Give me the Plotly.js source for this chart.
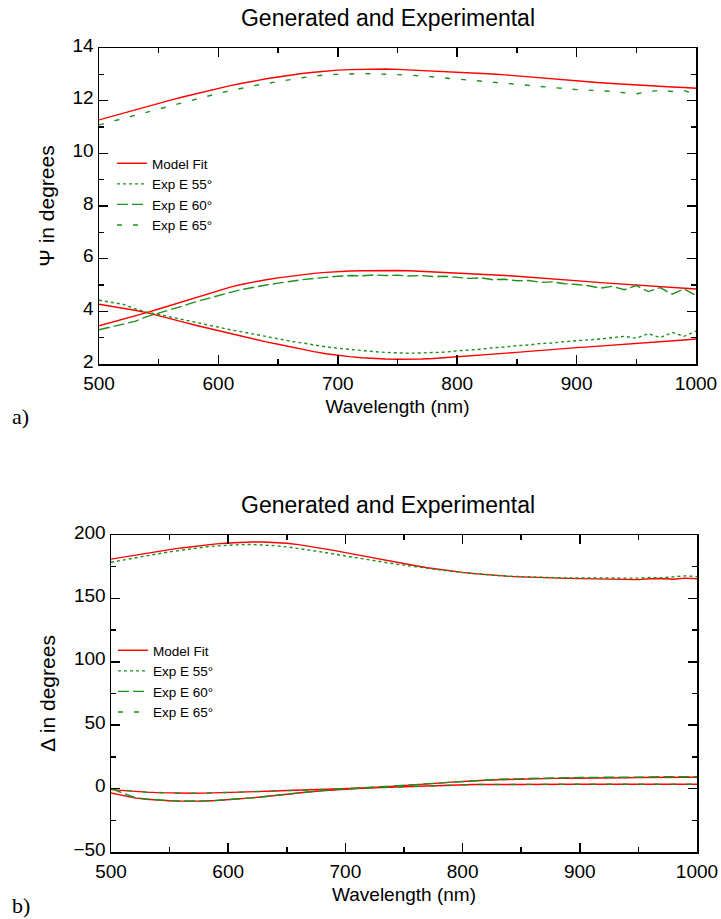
<!DOCTYPE html>
<html>
<head>
<meta charset="utf-8">
<script src="https://cdn.plot.ly/plotly-3.0.1.min.js"></script>
<style>html,body{margin:0;padding:0;background:#fff;}#chart{width:721px;height:919px;}</style>
</head>
<body>
<div id="chart"></div>
<script>
// Wavelength grid (nm)
const wavelength = [500,510,520,530,540,550,560,570,580,590,600,610,620,630,640,650,660,670,680,690,700,710,720,730,740,750,760,770,780,790,800,810,820,830,840,850,860,870,880,890,900,910,920,930,940,950,960,970,980,990,1000];

// ---- Panel a) Psi (degrees) ----
const psiModelA = [11.27,11.4,11.52,11.65,11.78,11.9,12.02,12.14,12.25,12.36,12.47,12.57,12.66,12.75,12.83,12.9,12.97,13.03,13.08,13.13,13.16,13.18,13.19,13.2,13.2,13.19,13.17,13.14,13.11,13.09,13.07,13.05,13.03,13.01,12.98,12.94,12.9,12.86,12.82,12.78,12.74,12.71,12.68,12.65,12.62,12.6,12.57,12.54,12.52,12.5,12.47];
const psiExpA65 = [11.08,11.2,11.32,11.45,11.58,11.7,11.82,11.94,12.05,12.17,12.28,12.38,12.48,12.57,12.65,12.73,12.8,12.87,12.93,12.98,13.0,13.02,13.03,13.02,13.01,13.0,12.97,12.94,12.9,12.85,12.81,12.78,12.74,12.7,12.66,12.62,12.58,12.55,12.5,12.46,12.42,12.4,12.38,12.35,12.3,12.26,12.33,12.4,12.35,12.38,12.25];
const psiModelB = [3.45,3.57,3.69,3.82,3.95,4.09,4.23,4.38,4.53,4.67,4.8,4.92,5.03,5.12,5.2,5.27,5.33,5.39,5.44,5.48,5.51,5.53,5.54,5.55,5.55,5.55,5.54,5.52,5.5,5.48,5.46,5.44,5.42,5.39,5.36,5.33,5.3,5.27,5.23,5.2,5.16,5.13,5.09,5.06,5.03,5.0,4.97,4.94,4.91,4.88,4.85];
const psiExpB60 = [3.3,3.4,3.5,3.62,3.8,3.93,4.07,4.2,4.35,4.48,4.6,4.72,4.83,4.92,5.0,5.07,5.14,5.2,5.25,5.3,5.33,5.36,5.35,5.38,5.36,5.37,5.34,5.36,5.32,5.33,5.3,5.25,5.27,5.2,5.22,5.16,5.17,5.1,5.12,5.05,5.02,4.97,4.88,4.95,4.82,4.98,4.75,4.9,4.65,4.85,4.6];
const psiModelC = [4.27,4.2,4.13,4.04,3.95,3.84,3.72,3.6,3.48,3.37,3.26,3.15,3.04,2.94,2.84,2.75,2.65,2.55,2.47,2.39,2.33,2.28,2.24,2.21,2.19,2.18,2.18,2.19,2.21,2.24,2.27,2.3,2.33,2.37,2.41,2.44,2.48,2.52,2.56,2.59,2.62,2.65,2.68,2.71,2.74,2.77,2.8,2.83,2.87,2.91,2.95];
const psiExpC55 = [4.42,4.35,4.27,4.1,3.97,3.88,3.78,3.68,3.6,3.5,3.4,3.3,3.22,3.13,3.03,2.95,2.87,2.8,2.72,2.65,2.6,2.55,2.5,2.47,2.44,2.42,2.41,2.42,2.44,2.45,2.5,2.53,2.56,2.62,2.64,2.7,2.72,2.78,2.8,2.85,2.88,2.9,2.95,3.0,3.05,2.98,3.15,3.0,3.2,3.05,3.25];

// ---- Panel b) Delta (degrees) ----
const delModelD = [181,182.6,184.1,185.6,187.1,188.5,189.8,191,192.1,193,193.7,194.2,194.5,194.5,194.2,193.5,192.4,191.1,189.6,187.9,186.1,184.3,182.5,180.7,178.9,177.3,175.7,174.2,172.8,171.6,170.5,169.5,168.7,168,167.4,167,166.6,166.3,166,165.8,165.6,165.5,165.4,165.6,165.3,164.8,165.5,165.7,165.1,166,165.5];
const delExpD55 = [178.5,180.3,182,183.6,185.2,186.7,188.1,189.4,190.5,191.4,192,192.4,192.5,192.2,191.6,190.6,189.4,188.1,186.6,185,183.4,181.8,180.3,178.9,177.5,176.2,174.9,173.7,172.5,171.4,170.4,169.5,168.7,168.1,167.5,167.1,166.7,166.5,166.3,166.1,166,165.9,166.1,165.8,166.2,166,166.5,166.2,167,167.8,167.2];
const delModelE = [-3.5,-5.6,-7.3,-8.4,-9.1,-9.6,-9.9,-10,-9.8,-9.4,-8.8,-8.1,-7.3,-6.4,-5.4,-4.1,-3.3,-2.5,-1.7,-1.0,-0.3,0.2,0.7,1.2,1.7,2.2,2.8,3.5,4.3,5.1,5.8,6.2,6.6,7.0,7.3,7.6,7.8,8.0,8.1,8.2,8.4,8.4,8.5,8.6,8.6,8.7,8.7,8.8,8.8,8.9,8.9];
const delExpE60 = [0,-3.5,-7,-8.2,-9,-9.5,-9.8,-9.9,-9.7,-9.3,-8.8,-8.1,-7.3,-6.4,-5.4,-4.2,-3.3,-2.4,-1.6,-0.8,-0.1,0.5,1.0,1.5,2.0,2.6,3.2,3.9,4.7,5.4,6.1,6.5,6.9,7.3,7.6,7.9,8.1,8.3,8.5,8.6,8.8,8.8,9.0,9.1,8.9,9.2,9.1,9.4,9.2,9.0,9.3];
const delModelF = [-0.8,-1.6,-2.3,-2.8,-3.2,-3.5,-3.7,-3.7,-3.6,-3.4,-3.1,-2.8,-2.5,-2.2,-1.9,-1.5,-1.2,-0.9,-0.6,-0.3,0,0.4,0.8,1.2,1.6,1.9,2.2,2.5,2.7,2.9,3.1,3.2,3.2,3.3,3.3,3.3,3.3,3.4,3.4,3.4,3.4,3.4,3.4,3.5,3.4,3.3,3.5,3.4,3.4,3.5,3.4];
const delExpF65 = [0,-1.3,-2.2,-2.8,-3.2,-3.5,-3.7,-3.7,-3.6,-3.4,-3.1,-2.8,-2.5,-2.2,-1.9,-1.5,-1.2,-0.9,-0.6,-0.3,0.1,0.5,0.9,1.3,1.6,1.9,2.2,2.5,2.7,2.9,3.1,3.2,3.2,3.3,3.3,3.3,3.4,3.4,3.4,3.4,3.4,3.5,3.4,3.5,3.4,3.4,3.5,3.4,3.5,3.4,3.4];

const RED = '#ff0000', GREEN = '#1f8f1f';
const LW = 1.4;
const styleModel = {color: RED, width: LW, dash: 'solid'};
const style55 = {color: GREEN, width: LW, dash: '3px,3px'};
const style60 = {color: GREEN, width: LW, dash: '11px,4px'};
const style65 = {color: GREEN, width: LW, dash: '5px,11px'};

function tr(y, name, line, xa, ya, leg, show) {
  return {x: wavelength, y: y, name: name, type: 'scatter', mode: 'lines', line: line,
          xaxis: xa, yaxis: ya, legend: leg, showlegend: show, hoverinfo: 'skip'};
}

const traces = [
  // panel a
  tr(psiModelA, 'Model Fit', styleModel, 'x', 'y', 'legend', true),
  tr(psiModelB, 'Model Fit', styleModel, 'x', 'y', 'legend', false),
  tr(psiModelC, 'Model Fit', styleModel, 'x', 'y', 'legend', false),
  tr(psiExpC55, 'Exp E 55°', style55, 'x', 'y', 'legend', true),
  tr(psiExpB60, 'Exp E 60°', style60, 'x', 'y', 'legend', true),
  tr(psiExpA65, 'Exp E 65°', style65, 'x', 'y', 'legend', true),
  // panel b
  tr(delModelD, 'Model Fit', styleModel, 'x2', 'y2', 'legend2', true),
  tr(delModelE, 'Model Fit', styleModel, 'x2', 'y2', 'legend2', false),
  tr(delModelF, 'Model Fit', styleModel, 'x2', 'y2', 'legend2', false),
  tr(delExpD55, 'Exp E 55°', style55, 'x2', 'y2', 'legend2', true),
  tr(delExpE60, 'Exp E 60°', style60, 'x2', 'y2', 'legend2', true),
  tr(delExpF65, 'Exp E 65°', style65, 'x2', 'y2', 'legend2', true)
];

const W = 721, H = 919;
const px = v => v / W;
const py = v => 1 - v / H;
const FONT = 'Liberation Sans, Arial, sans-serif';
const tickFont = {family: FONT, size: 19, color: '#000'};
const titleFont = {family: FONT, size: 19, color: '#000'};

function axisCommon(extra) {
  return Object.assign({
    showline: true, linecolor: '#000', linewidth: 1.5, mirror: 'ticks',
    ticks: 'inside', ticklen: 9, tickwidth: 1.5, tickcolor: '#000',
    showgrid: false, zeroline: false, tickfont: tickFont, automargin: false
  }, extra);
}

const legendCommon = {
  bgcolor: 'rgba(0,0,0,0)', borderwidth: 0, font: {family: FONT, size: 13.5, color: '#000'},
  xanchor: 'left', yanchor: 'top', tracegroupgap: 0, itemwidth: 30
};

const layout = {
  width: W, height: H, margin: {l: 0, r: 0, t: 0, b: 0},
  paper_bgcolor: '#fff', plot_bgcolor: '#fff', font: {family: FONT, color: '#000'},
  title: {text: 'Generated and Experimental', font: {family: FONT, size: 23, color: '#000'},
          x: px(388), xanchor: 'center', y: py(18), yanchor: 'middle', xref: 'paper', yref: 'paper'},
  xaxis: axisCommon({domain: [px(99), px(696)], anchor: 'y', range: [500, 1000], dtick: 100, tick0: 500, ticklabelstandoff: 2,
          minor: {ticks: 'inside', ticklen: 5, tickwidth: 1.5, tickcolor: '#000', dtick: 50, showgrid: false},
          title: {text: 'Wavelength (nm)', font: titleFont, standoff: 6}}),
  yaxis: axisCommon({domain: [py(364), py(48)], anchor: 'x', range: [2, 14], dtick: 2, tick0: 2, ticklabelshift: -3,
          minor: {ticks: 'inside', ticklen: 5, tickwidth: 1.5, tickcolor: '#000', dtick: 1, showgrid: false},
          title: {text: 'Ψ in degrees', font: {family: FONT, size: 21, color: '#000'}, standoff: 12}}),
  xaxis2: axisCommon({domain: [px(111), px(697)], anchor: 'y2', range: [500, 1000], dtick: 100, tick0: 500, ticklabelstandoff: 2,
          minor: {ticks: 'inside', ticklen: 5, tickwidth: 1.5, tickcolor: '#000', dtick: 50, showgrid: false},
          title: {text: 'Wavelength (nm)', font: titleFont, standoff: 6}}),
  yaxis2: axisCommon({domain: [py(852), py(535)], anchor: 'x2', range: [-50, 200], dtick: 50, tick0: -50, ticklabelshift: -3,
          minor: {ticks: 'inside', ticklen: 5, tickwidth: 1.5, tickcolor: '#000', dtick: 25, showgrid: false},
          title: {text: 'Δ in degrees', font: {family: FONT, size: 21, color: '#000'}, standoff: 12}}),
  legend: Object.assign({x: px(112), y: py(148)}, legendCommon),
  legend2: Object.assign({x: px(113), y: py(635)}, legendCommon),
  annotations: [
    {text: 'Generated and Experimental', xref: 'paper', yref: 'paper', x: px(388), y: py(505),
     xanchor: 'center', yanchor: 'middle', showarrow: false, font: {family: FONT, size: 23, color: '#000'}},
    {text: 'a)', xref: 'paper', yref: 'paper', x: px(10), y: py(417), xanchor: 'left', yanchor: 'middle',
     showarrow: false, font: {family: 'Liberation Serif, Times New Roman, serif', size: 22, color: '#000'}},
    {text: 'b)', xref: 'paper', yref: 'paper', x: px(10), y: py(905), xanchor: 'left', yanchor: 'middle',
     showarrow: false, font: {family: 'Liberation Serif, Times New Roman, serif', size: 22, color: '#000'}}
  ]
};

Plotly.newPlot('chart', traces, layout, {staticPlot: true, displayModeBar: false});
</script>
</body>
</html>
